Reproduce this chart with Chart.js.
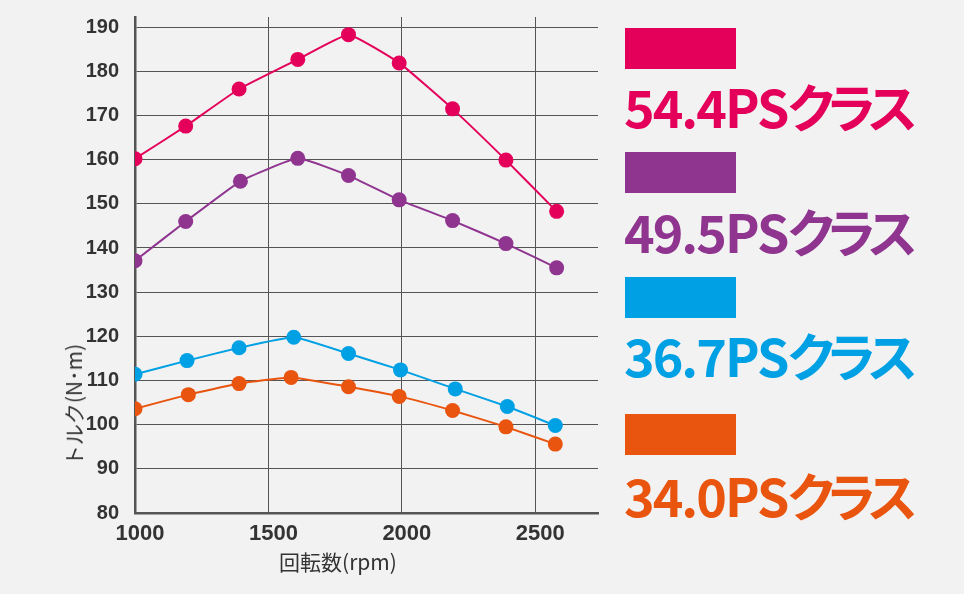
<!DOCTYPE html>
<html>
<head>
<meta charset="utf-8">
<script src="https://cdn.jsdelivr.net/npm/chart.js@4"></script>
<style>
  html, body { margin: 0; padding: 0; background: #f2f2f2; }
  #wrap { position: relative; width: 964px; height: 594px; overflow: hidden; }
  canvas { position: absolute; left: 0; top: 0; }
  .sw { position: absolute; left: 625px; width: 111px; height: 41px; }
  .lt { position: absolute; left: 624px; font-family: "Noto Sans CJK JP", sans-serif; font-weight: 700;
        font-size: 52px; line-height: 1; white-space: nowrap; font-feature-settings: "palt"; letter-spacing: -2px; }
  .lt span { letter-spacing: -6px; }
  .ytitle { position: absolute; left: 73px; top: 405px; transform: translate(-50%, -50%) rotate(-90deg);
        font-family: "Noto Sans CJK JP", sans-serif; font-size: 21px; color: #333; white-space: nowrap; }
  .xtitle { position: absolute; left: 338px; top: 561px; transform: translate(-50%, -50%);
        font-family: "Noto Sans CJK JP", sans-serif; font-size: 21px; color: #333; white-space: nowrap; }
</style>
</head>
<body>
<div id="wrap">
  <canvas id="c" width="964" height="594"></canvas>
  <div class="ytitle">トルク(N･m)</div>
  <div class="xtitle">回転数(rpm)</div>
  <div id="legend"></div>
</div>
<script>
// ---- data ----
const seriesNames = ["54.4PSクラス", "49.5PSクラス", "36.7PSクラス", "34.0PSクラス"];
const seriesColors = ["#e4005a", "#8f3590", "#00a0e4", "#e9540e"];
const rpm54 = [1000, 1190, 1390, 1610, 1800, 1990, 2190, 2390, 2580];
const torque54 = [160.2, 167.6, 176.0, 182.7, 188.3, 181.9, 171.5, 159.9, 148.3];
const rpm49 = [1000, 1190, 1395, 1610, 1800, 1990, 2190, 2390, 2580];
const torque49 = [137.1, 146.0, 155.1, 160.3, 156.4, 150.9, 146.2, 141.0, 135.5];
const rpm36 = [1000, 1195, 1390, 1595, 1800, 1995, 2200, 2395, 2575];
const torque36 = [111.4, 114.5, 117.4, 119.8, 116.1, 112.4, 108.1, 104.1, 99.8];
const rpm34 = [1000, 1200, 1390, 1585, 1800, 1990, 2190, 2390, 2575];
const torque34 = [103.6, 106.8, 109.3, 110.7, 108.6, 106.4, 103.2, 99.5, 95.6];
const xTicks = [1000, 1500, 2000, 2500];
const yTicks = [80, 90, 100, 110, 120, 130, 140, 150, 160, 170, 180, 190];

const rpmSets = [rpm54, rpm49, rpm36, rpm34];
const torqueSets = [torque54, torque49, torque36, torque34];

// legend (HTML)
const legendTops = [28, 152, 277, 414];
const textTops = [80, 205, 329, 469];
const lg = document.getElementById('legend');
seriesNames.forEach((n, i) => {
  const s = document.createElement('div');
  s.className = 'sw'; s.style.top = legendTops[i] + 'px'; s.style.background = seriesColors[i];
  lg.appendChild(s);
  const t = document.createElement('div');
  t.className = 'lt'; t.style.top = textTops[i] + 'px'; t.style.color = seriesColors[i];
  const k = n.indexOf('クラス');
  t.appendChild(document.createTextNode(n.slice(0, k)));
  const sp = document.createElement('span');
  sp.textContent = n.slice(k);
  t.appendChild(sp);
  lg.appendChild(t);
});

const datasets = seriesNames.map((n, i) => ({
  label: n,
  data: rpmSets[i].map((x, j) => ({ x: x, y: torqueSets[i][j] })),
  borderColor: seriesColors[i],
  backgroundColor: seriesColors[i],
  pointBackgroundColor: seriesColors[i],
  pointBorderWidth: 0,
  pointRadius: 7.5,
  borderWidth: 2,
  tension: 0.12
})).reverse();

const tickFont = { family: "'Liberation Sans Narrow','Liberation Sans', Arial, sans-serif", weight: 'bold' };

new Chart(document.getElementById('c'), {
  type: 'line',
  data: { datasets: datasets },
  options: {
    responsive: false,
    animation: false,
    devicePixelRatio: 1,
    layout: { padding: { left: 0, top: 17, right: 366, bottom: 0 } },
    plugins: { legend: { display: false }, tooltip: { enabled: false } },
    scales: {
      x: {
        type: 'linear',
        min: 1000, max: 2735,
        afterBuildTicks: (s) => { s.ticks = xTicks.map(v => ({ value: v })); },
        afterFit: (s) => { s.height = 81; s.paddingLeft = 0; s.paddingRight = 0; },
        grid: { color: '#555', lineWidth: 1, drawTicks: false },
        border: { color: '#555', width: 2.5 },
        ticks: { color: '#333', font: Object.assign({ size: 22 }, tickFont), padding: 8, labelOffset: 5,
                 maxRotation: 0, autoSkip: false, callback: (v) => String(v) }
      },
      y: {
        min: 80, max: 192.3,
        afterBuildTicks: (s) => { s.ticks = yTicks.map(v => ({ value: v })); },
        afterFit: (s) => { s.width = 135; s.paddingTop = 0; s.paddingBottom = 0; },
        grid: { color: '#555', lineWidth: 1, drawTicks: false },
        border: { color: '#555', width: 2.5 },
        ticks: { color: '#333', font: Object.assign({ size: 20 }, tickFont), padding: 16, callback: (v) => String(v) }
      }
    }
  }
});
</script>
</body>
</html>
